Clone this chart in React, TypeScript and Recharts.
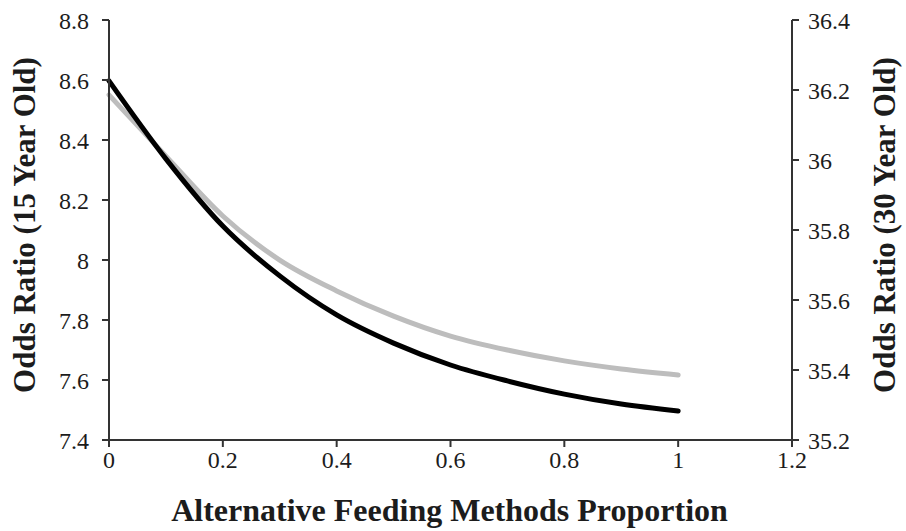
import { LineChart, Line, XAxis, YAxis, Label } from 'recharts'

// x positions (proportion of alternative feeding)
const proportion = [0, 0.1, 0.2, 0.3, 0.4, 0.5, 0.6, 0.7, 0.8, 0.9, 1]
// left axis: 15 year old
const odds15 = [8.597, 8.337, 8.113, 7.947, 7.817, 7.723, 7.65, 7.597, 7.553, 7.52, 7.497]
// right axis: 30 year old
const odds30 = [36.186, 36.011, 35.84, 35.714, 35.626, 35.554, 35.497, 35.457, 35.426, 35.403, 35.386]

const xTicks = [0, 0.2, 0.4, 0.6, 0.8, 1, 1.2]
const leftTicks = [7.4, 7.6, 7.8, 8, 8.2, 8.4, 8.6, 8.8]
const rightTicks = [35.2, 35.4, 35.6, 35.8, 36, 36.2, 36.4]

const data = proportion.map((p, i) => ({ p, odds15: odds15[i], odds30: odds30[i] }))

const FONT = '"Liberation Serif", "Times New Roman", serif'
const INK = '#1c1c1c'
const fmt = (v: number) => String(Math.round(v * 10) / 10)

const tickStyle = { fontFamily: FONT, fontSize: 24, fill: INK }
const axisLine = { stroke: '#333', strokeWidth: 2 }
const titleStyle = { fontFamily: FONT, fontSize: 31, fontWeight: 700, fill: INK }

export default function App() {
  return (
    <div style={{ position: 'absolute', left: 0, top: 0, width: 906, height: 531, background: '#fff' }}>
      <LineChart width={906} height={531} data={data} margin={{ top: 20, right: 14, bottom: 41, left: 9 }}>
        <XAxis
          dataKey="p"
          type="number"
          domain={[0, 1.2]}
          ticks={xTicks}
          tickFormatter={fmt}
          tick={tickStyle}
          tickSize={7}
          tickMargin={4}
          axisLine={axisLine}
          tickLine={axisLine}
          height={50}
        >
          <Label
            content={(props: any) => {
              const vb = props.viewBox
              return (
                <text x={vb.x + vb.width / 2 - 1} y={510} textAnchor="middle" dominantBaseline="central"
                  style={{ ...titleStyle, fontSize: 32 }}>
                  Alternative Feeding Methods Proportion
                </text>
              )
            }}
          />
        </XAxis>
        <YAxis
          yAxisId="left"
          domain={[7.4, 8.8]}
          ticks={leftTicks}
          tickFormatter={fmt}
          tick={tickStyle}
          tickSize={7}
          tickMargin={13}
          axisLine={axisLine}
          tickLine={axisLine}
          width={100}
        >
          <Label
            content={(props: any) => {
              const vb = props.viewBox
              const cx = vb.x + 15
              const cy = 225
              return (
                <text x={cx} y={cy} textAnchor="middle" dominantBaseline="central" transform={`rotate(-90 ${cx} ${cy})`}
                  style={titleStyle}>
                  Odds Ratio (15 Year Old)
                </text>
              )
            }}
          />
        </YAxis>
        <YAxis
          yAxisId="right"
          orientation="right"
          domain={[35.2, 36.4]}
          ticks={rightTicks}
          tickFormatter={fmt}
          tick={tickStyle}
          tickSize={7}
          tickMargin={9}
          axisLine={axisLine}
          tickLine={axisLine}
          width={100}
        >
          <Label
            content={(props: any) => {
              const vb = props.viewBox
              const cx = vb.x + 92
              const cy = 225
              return (
                <text x={cx} y={cy} textAnchor="middle" dominantBaseline="central" transform={`rotate(-90 ${cx} ${cy})`}
                  style={titleStyle}>
                  Odds Ratio (30 Year Old)
                </text>
              )
            }}
          />
        </YAxis>
        <Line yAxisId="right" type="monotone" dataKey="odds30" stroke="#bdbdbd" strokeWidth={5} dot={false} isAnimationActive={false} strokeLinecap="round" />
        <Line yAxisId="left" type="monotone" dataKey="odds15" stroke="#000" strokeWidth={5} dot={false} isAnimationActive={false} strokeLinecap="round" />
      </LineChart>
    </div>
  )
}
